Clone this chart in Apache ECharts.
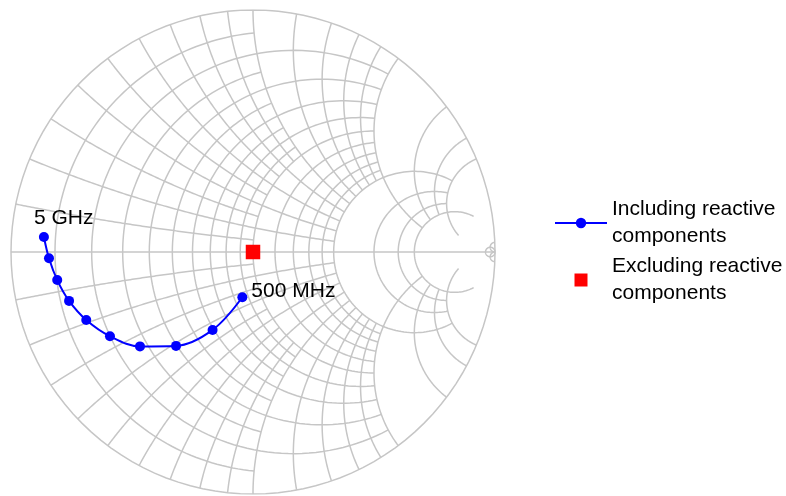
<!DOCTYPE html>
<html><head><meta charset="utf-8">
<script src="https://cdn.jsdelivr.net/npm/echarts@6/dist/echarts.min.js"></script>
<style>html,body{margin:0;padding:0;background:#fff}#c{width:786px;height:496px}</style>
</head><body><div id="c"></div><script>
// ---- data: reflection coefficient (5 GHz -> 500 MHz) ----
const freqLabels = ['5 GHz','4.5 GHz','4 GHz','3.5 GHz','3 GHz','2.5 GHz','2 GHz','1.5 GHz','1 GHz','500 MHz'];
const gammaRe = [-0.864,-0.843,-0.809,-0.760,-0.689,-0.591,-0.467,-0.318,-0.167,-0.044];
const gammaIm = [0.062,-0.026,-0.116,-0.202,-0.281,-0.348,-0.390,-0.388,-0.322,-0.187];
const excludedRe = [0.0];
const excludedIm = [0.0];
const seriesNames = ['Including reactive\ncomponents', 'Excluding reactive\ncomponents'];
// ---- Smith grid: [value, limit] ----
// resistance circles r drawn for |x| <= limit ; reactance arcs x drawn for r <= limit
const resistanceGrid = [[0,Infinity],[0.1,1],[0.2,2],[0.3,1],[0.4,2],[0.5,1],[0.6,2],[0.7,1],[0.8,2],[0.9,1],[1,2],
  [1.2,2],[1.4,2],[1.6,2],[1.8,2],[2,5],[3,5],[4,5],[5,10],[50,Infinity]];
const reactanceGrid = [[0.1,1],[0.2,2],[0.3,1],[0.4,2],[0.5,1],[0.6,2],[0.7,1],[0.8,2],[0.9,1],[1,2],
  [1.2,2],[1.4,2],[1.6,2],[1.8,2],[2,5],[3,5],[4,5],[5,10],[50,Infinity]];

function gammaOf(r, x) {
  if (!isFinite(x) || !isFinite(r)) return [1, 0];
  const d = (r + 1) * (r + 1) + x * x;
  return [(r * r - 1 + x * x) / d, 2 * x / d];
}
const N = 120;
function rCircle(r, xmax) {
  const c = r / (r + 1), rho = 1 / (r + 1);
  const g = gammaOf(r, xmax);
  const a0 = isFinite(xmax) ? Math.atan2(g[1], g[0] - c) : 0;
  const a1 = 2 * Math.PI - a0;
  const pts = [];
  for (let i = 0; i <= N; i++) {
    const a = a0 + (a1 - a0) * i / N;
    pts.push([c + rho * Math.cos(a), rho * Math.sin(a)]);
  }
  return pts;
}
function norm(a) { while (a < 0) a += 2 * Math.PI; return a; }
function xArc(x, rmax, sign) {
  const cy = 1 / x, rho = 1 / x;
  const g0 = gammaOf(0, x);
  const a0 = norm(Math.atan2(g0[1] - cy, g0[0] - 1));
  const g1 = gammaOf(rmax, x);
  const a1 = isFinite(rmax) ? norm(Math.atan2(g1[1] - cy, g1[0] - 1)) : 1.5 * Math.PI;
  const pts = [];
  for (let i = 0; i <= N; i++) {
    const a = a0 + (a1 - a0) * i / N;
    pts.push([1 + rho * Math.cos(a), sign * (cy + rho * Math.sin(a))]);
  }
  return pts;
}
const gridLines = [];
resistanceGrid.forEach(([r, lim]) => gridLines.push({ coords: rCircle(r, lim) }));
reactanceGrid.forEach(([x, lim]) => {
  gridLines.push({ coords: xArc(x, lim, 1) });
  gridLines.push({ coords: xArc(x, lim, -1) });
});
gridLines.push({ coords: [[-1, 0], [1, 0]] });

const FONT = 'Liberation Sans, Arial, sans-serif';
const curveData = gammaRe.map((v, i) => {
  const item = { value: [v, gammaIm[i]], name: freqLabels[i] };
  if (i === 0) item.label = { show: true, formatter: freqLabels[i], position: 'top', align: 'left', offset: [-10, 2] };
  if (i === gammaRe.length - 1) item.label = { show: true, formatter: freqLabels[i], position: 'right', offset: [-1, -6] };
  return item;
});

const chart = echarts.init(document.getElementById('c'), null, { renderer: 'canvas' });
chart.setOption({
  animation: false,
  backgroundColor: '#ffffff',
  grid: { left: 11, top: 10, width: 484, height: 484 },
  xAxis: { type: 'value', min: -1, max: 1, show: false },
  yAxis: { type: 'value', min: -1, max: 1, show: false },
  legend: {
    orient: 'vertical', left: 554, top: 196, padding: 0, itemGap: 3,
    itemWidth: 52, itemHeight: 13, symbolKeepAspect: true,
    textStyle: { fontSize: 21, lineHeight: 27, color: '#000', fontFamily: FONT },
    data: [
      { name: seriesNames[0] },
      { name: seriesNames[1], icon: 'path://M0 0h10v10h-10z', itemStyle: { color: '#ff0000', opacity: 1 } }
    ]
  },
  series: [
    {
      type: 'lines', coordinateSystem: 'cartesian2d', polyline: true, silent: true, z: 1,
      lineStyle: { color: '#c6c6c6', width: 1.5, opacity: 1 },
      data: gridLines
    },
    {
      name: seriesNames[0], type: 'line', smooth: 0.35, z: 5,
      symbol: 'circle', symbolSize: 10,
      lineStyle: { color: '#0000ff', width: 2 },
      itemStyle: { color: '#0000ff' },
      label: { fontSize: 21, color: '#000', fontFamily: FONT },
      data: curveData
    },
    {
      name: seriesNames[1], type: 'scatter', symbol: 'rect', symbolSize: 14.5, z: 6,
      itemStyle: { color: '#ff0000', opacity: 1 },
      data: excludedRe.map((v, i) => [v, excludedIm[i]])
    }
  ]
});
</script></body></html>
